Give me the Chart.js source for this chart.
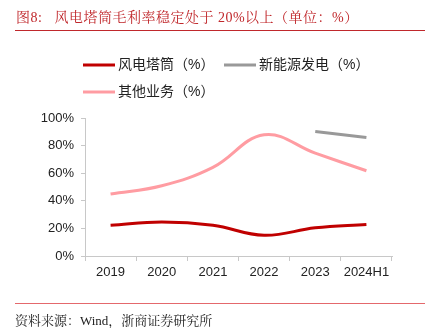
<!DOCTYPE html>
<html>
<head>
<meta charset="utf-8">
<script src="https://cdn.jsdelivr.net/npm/chart.js@4"></script>
<style>
  body { margin: 0; background: #fff; }
  #wrap { position: relative; width: 433px; height: 328px; overflow: hidden; }
  #chart { position: absolute; left: 0; top: 0; }
  .title {
    position: absolute; left: 16px; top: 6px; font-size: 14px; color: #c0282c;
    font-family: "Liberation Serif", "Noto Serif CJK SC", "Noto Sans CJK SC", serif;
    white-space: nowrap; letter-spacing: 0.5px;
  }
  .rule { position: absolute; left: 15px; width: 410px; height: 1px; }
  .source {
    position: absolute; left: 15px; top: 310px; font-size: 13px; color: #222;
    font-family: "Liberation Serif", "Noto Serif CJK SC", "Noto Sans CJK SC", serif;
    white-space: nowrap;
  }
</style>
</head>
<body>
<div id="wrap">
  <canvas id="chart" width="433" height="328"></canvas>
  <div class="title">图8:&nbsp;&nbsp;&nbsp;风电塔筒毛利率稳定处于 20%以上（单位：%）</div>
  <div class="rule" style="top:30px; background:#c0282c"></div>
  <div class="rule" style="top:303px; background:#e4686c"></div>
  <div class="source">资料来源：Wind，浙商证券研究所</div>
</div>
<script>
//categories and series (%)
const years = ["2019", "2020", "2021", "2022", "2023", "2024H1"];
const towerMargin = [22.3, 24.7, 22.3, 15, 20.4, 22.8];
const newEnergyMargin = [null, null, null, null, 90.2, 85.8];
const otherMargin = [44.9, 50.9, 64.2, 87.8, 74.5, 61.8];
const yTicks = [0, 20, 40, 60, 80, 100];

const seriesNames = ["风电塔筒（%）", "新能源发电（%）", "其他业务（%）"];
const seriesColors = ["#c00000", "#999999", "#ff9ca2"];

const cjk = '"Liberation Sans", "Noto Sans CJK SC", sans-serif';

//legend drawn by hand so rows line up like the original
const legendSpots = [
  { x: 83, y: 65 },
  { x: 224, y: 65 },
  { x: 83, y: 92 },
];
const handLegend = {
  id: "handLegend",
  afterDraw(chart) {
    const ctx = chart.ctx;
    ctx.save();
    chart.data.datasets.forEach((ds, i) => {
      const p = legendSpots[i];
      ctx.strokeStyle = ds.borderColor;
      ctx.lineWidth = 3;
      ctx.beginPath();
      ctx.moveTo(p.x, p.y);
      ctx.lineTo(p.x + 32, p.y);
      ctx.stroke();
      ctx.fillStyle = "#222";
      ctx.font = "14px " + cjk;
      ctx.textBaseline = "middle";
      ctx.fillText(ds.label, p.x + 35, p.y);
    });
    ctx.restore();
  },
};

const seriesData = [towerMargin, newEnergyMargin, otherMargin];

new Chart(document.getElementById("chart"), {
  type: "line",
  plugins: [handLegend],
  data: {
    labels: years,
    datasets: seriesData.map((d, i) => ({
      label: seriesNames[i],
      data: d,
      borderColor: seriesColors[i],
      backgroundColor: seriesColors[i],
      borderWidth: 3,
      pointRadius: 0,
      tension: 0.4,
      fill: false,
    })),
  },
  options: {
    responsive: false,
    animation: false,
    layout: { padding: { left: 0, right: 41, top: 118, bottom: 42 } },
    plugins: {
      legend: { display: false },
      tooltip: { enabled: false },
    },
    scales: {
      x: {
        offset: true,
        grid: { offset: true, drawOnChartArea: false, drawTicks: true, tickLength: 5, color: "#c8c8c8" },
        border: { color: "#c8c8c8", width: 1 },
        ticks: { color: "#222", font: { size: 13, family: cjk }, padding: 4, maxRotation: 0 },
        afterFit: (s) => { s.height = 30; },
      },
      y: {
        min: 0,
        max: 100,
        afterBuildTicks: (s) => { s.ticks = yTicks.map((v) => ({ value: v })); },
        grid: { drawOnChartArea: false, drawTicks: true, tickLength: 4, color: "#c8c8c8" },
        border: { color: "#c8c8c8", width: 1 },
        ticks: { color: "#222", font: { size: 13, family: cjk }, padding: 7, callback: (v) => v + "%" },
        afterFit: (s) => { s.width = 85; },
      },
    },
  },
});
</script>
</body>
</html>
